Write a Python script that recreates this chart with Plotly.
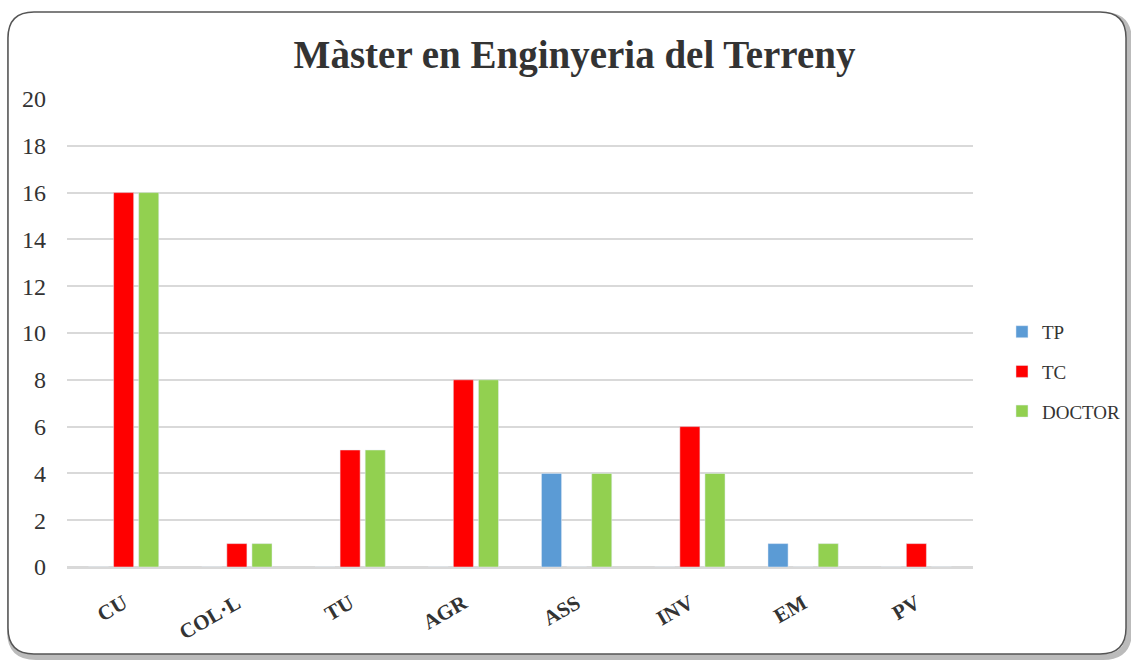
import plotly.graph_objects as go

categories = ["CU", "COL·L", "TU", "AGR", "ASS", "INV", "EM", "PV"]
tp = [0, 0, 0, 0, 4, 0, 1, 0]
tc = [16, 1, 5, 8, 0, 6, 0, 1]
doctor = [16, 1, 5, 8, 4, 4, 1, 0]
y_ticks = [0, 2, 4, 6, 8, 10, 12, 14, 16, 18, 20]

W, H = 1131, 660
L, R, T, B = 67, 158, 99, 93
pw, ph = W - L - R, H - T - B

def px(x):
    return (x - L) / pw

def py(y):
    return (H - B - y) / ph

def rounded_path(x0, y0, x1, y1, r):
    return (f"M {px(x0 + r)},{py(y0)} L {px(x1 - r)},{py(y0)} "
            f"Q {px(x1)},{py(y0)} {px(x1)},{py(y0 + r)} "
            f"L {px(x1)},{py(y1 - r)} Q {px(x1)},{py(y1)} {px(x1 - r)},{py(y1)} "
            f"L {px(x0 + r)},{py(y1)} Q {px(x0)},{py(y1)} {px(x0)},{py(y1 - r)} "
            f"L {px(x0)},{py(y0 + r)} Q {px(x0)},{py(y0)} {px(x0 + r)},{py(y0)} Z")

serif = "Liberation Serif, DejaVu Serif, serif"

fig = go.Figure()
fig.add_trace(go.Bar(name="TP", x=categories, y=tp, marker_color="#5b9bd5", legendgroup="a"))
fig.add_trace(go.Bar(name="TC", x=categories, y=tc, marker_color="#ff0000", legendgroup="b"))
fig.add_trace(go.Bar(name="DOCTOR", x=categories, y=doctor, marker_color="#92d050", legendgroup="c"))

fig.update_layout(
    width=W, height=H,
    margin=dict(l=L, r=R, t=T, b=B, autoexpand=False),
    paper_bgcolor="white", plot_bgcolor="white",
    barmode="group", bargap=0.335, bargroupgap=0.2,
    title=dict(text="<b>Màster en Enginyeria del Terreny</b>", x=0.508, xanchor="center",
               xref="container", y=0.917, yanchor="middle",
               font=dict(family=serif, size=39, color="#333333")),
    font=dict(family=serif, color="#333333"),
    xaxis=dict(showgrid=False, tickangle=-30, showline=True, linecolor="#d9d9d9", linewidth=2,
               tickfont=dict(family=serif, size=21, color="#333333"),
               tickmode="array", tickvals=categories, ticklabelstandoff=14,
               ticktext=[f"<b>{c}</b>" for c in categories], ticks="", fixedrange=True),
    yaxis=dict(range=[0, 20], tickvals=y_ticks, showgrid=True, gridcolor="#d9d9d9", gridwidth=1.5,
               zeroline=True, zerolinecolor="#d9d9d9", zerolinewidth=2,
               tickfont=dict(family=serif, size=24, color="#333333"), ticklabelstandoff=20,
               ticks=""),
    legend=dict(x=1.032, y=0.417, xanchor="left", yanchor="middle", traceorder="grouped",
                tracegroupgap=12, font=dict(family=serif, size=19, color="#333333"),
                itemwidth=30, bgcolor="rgba(0,0,0,0)"),
    showlegend=True,
    shapes=[
        dict(type="path", xref="paper", yref="paper", layer="below",
             path=rounded_path(10, 15, 1129, 657, 26),
             line=dict(color="#bbbbbb", width=6)),
        dict(type="path", xref="paper", yref="paper", layer="below",
             path=rounded_path(8, 12, 1126, 654, 26),
             line=dict(color="#555555", width=1.5), fillcolor="white"),
    ],
)

fig.write_html("out.html", config={"displayModeBar": False},
               post_script="document.body.style.margin='0';document.body.style.overflow='hidden';")
